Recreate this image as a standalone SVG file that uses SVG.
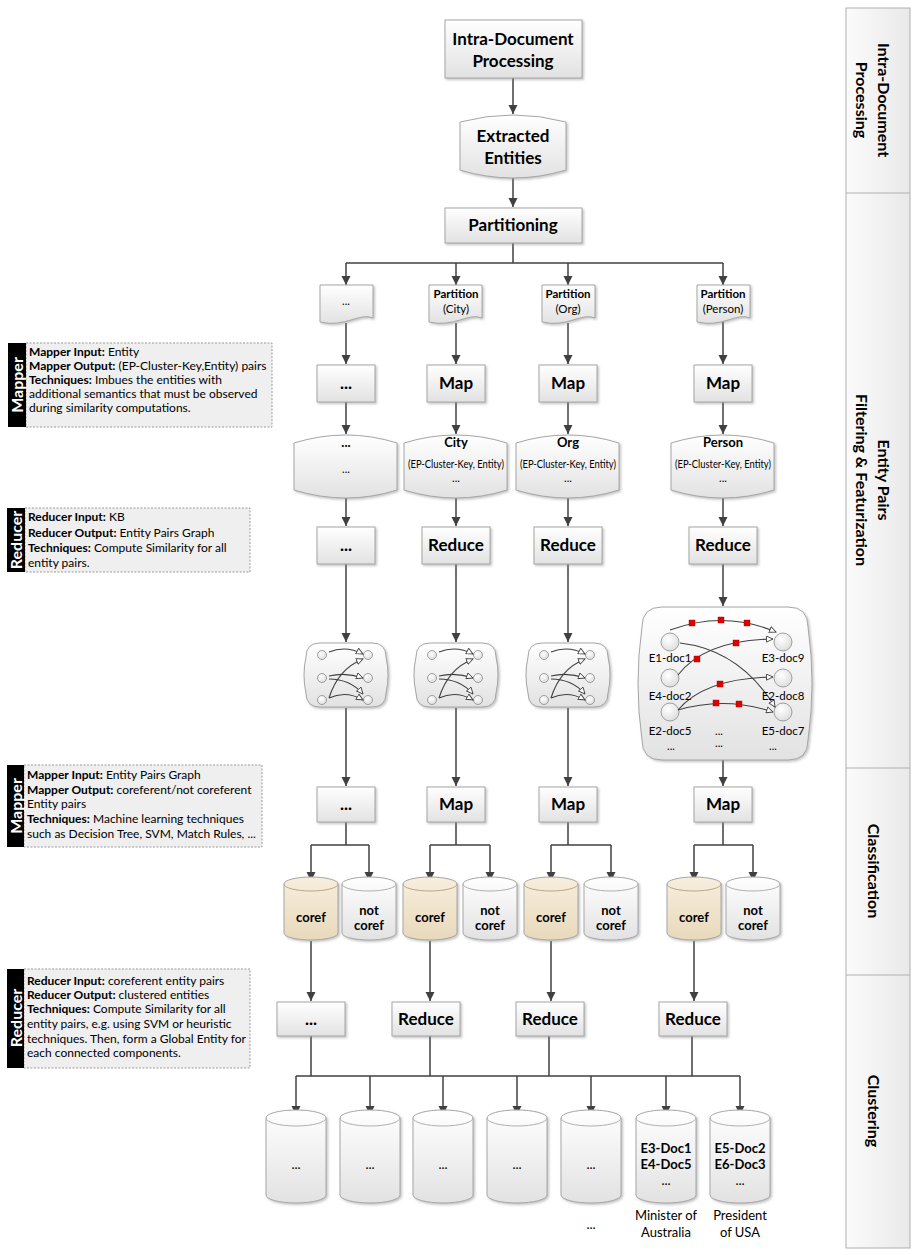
<svg xmlns="http://www.w3.org/2000/svg" width="914" height="1255" viewBox="0 0 914 1255">
<style>
.box{fill:url(#gBox);stroke:#a6a6a6;stroke-width:1;filter:url(#sh)}
.cor{fill:url(#gCoref);stroke:#a6a6a6;stroke-width:1;filter:url(#sh)}
.ln{fill:none;stroke:#404040;stroke-width:1.5}
.arr{fill:none;stroke:#404040;stroke-width:1.5;marker-end:url(#ah)}
.ge{fill:none;stroke:#404040;stroke-width:1.1;marker-end:url(#ho)}
.gc{fill:url(#gCirc);stroke:#8a8a8a;stroke-width:0.8}
.rs{fill:#e00000;stroke:#900;stroke-width:0.4}
.t{font-family:Lato,'Liberation Sans',sans-serif;fill:#000}
.big{font-size:17px;font-weight:bold;text-anchor:middle}
.mid{font-size:13px;text-anchor:middle}
.sm{font-size:11px;text-anchor:middle}
.pt{font-size:11.5px;text-anchor:middle}
.gl{font-size:11.5px;text-anchor:middle}
.note{font-size:12px}
.b{font-weight:bold}
.tab{font-family:Lato,'Liberation Sans',sans-serif;font-size:16px;font-weight:bold;fill:#fff;text-anchor:middle}
.nb{fill:#efefef;stroke:#9a9a9a;stroke-width:1;stroke-dasharray:2 1.5}
.lane{font-family:Lato,'Liberation Sans',sans-serif;font-size:16px;font-weight:bold;text-anchor:middle;fill:#000}
</style>
<defs>
<linearGradient id="gBox" x1="0" y1="0" x2="0" y2="1"><stop offset="0" stop-color="#ffffff"/><stop offset="1" stop-color="#e2e2e2"/></linearGradient>
<linearGradient id="gCoref" x1="0" y1="0" x2="0" y2="1"><stop offset="0" stop-color="#f7eedd"/><stop offset="1" stop-color="#e8d9bb"/></linearGradient>
<linearGradient id="gLane" x1="0" y1="0" x2="1" y2="0"><stop offset="0" stop-color="#fbfbfb"/><stop offset="1" stop-color="#e9e9e9"/></linearGradient>
<radialGradient id="gCirc" cx="0.4" cy="0.35" r="0.7"><stop offset="0" stop-color="#ffffff"/><stop offset="1" stop-color="#dcdcdc"/></radialGradient>
<filter id="sh" x="-10%" y="-10%" width="130%" height="130%"><feDropShadow dx="1.5" dy="1.5" stdDeviation="1" flood-color="#888" flood-opacity="0.5"/></filter>
<marker id="ah" markerUnits="userSpaceOnUse" markerWidth="10" markerHeight="10" refX="9" refY="5" orient="auto"><path d="M0,0.5 L9,5 L0,9.5 Z" fill="#404040"/></marker>
<marker id="ho" markerUnits="userSpaceOnUse" markerWidth="8" markerHeight="8" refX="7" refY="3.5" orient="auto"><path d="M0.5,0.5 L7,3.5 L0.5,6.5 Z" fill="#fff" stroke="#404040" stroke-width="0.9"/></marker>
<g id="smallGraph">
<path class="box" d="M14,0 H66 Q80,0 80,14 Q84,32 80,50 Q80,64 66,64 H14 Q0,64 0,50 Q-4,32 0,14 Q0,0 14,0 Z"/>
<circle class="gc" cx="16" cy="12" r="4.5"/><circle class="gc" cx="16" cy="35" r="4.5"/><circle class="gc" cx="16" cy="57" r="4.5"/>
<circle class="gc" cx="62" cy="12" r="4.5"/><circle class="gc" cx="62" cy="35" r="4.5"/><circle class="gc" cx="62" cy="57" r="4.5"/>
<path class="ge" d="M23,9 Q40,2 57,11"/>
<path class="ge" d="M23,55 Q32,26 57,16"/>
<path class="ge" d="M23,33 Q40,29 57,35"/>
<path class="ge" d="M23,36 Q44,36 57,51"/>
<path class="ge" d="M23,55 Q40,47 57,57"/>
</g>
</defs>

<!-- lanes -->
<g id="lanes">
<rect x="846" y="8" width="64" height="1240" fill="url(#gLane)" stroke="#b0b0b0"/>
<line x1="846" y1="193" x2="910" y2="193" stroke="#b0b0b0"/>
<line x1="846" y1="768" x2="910" y2="768" stroke="#b0b0b0"/>
<line x1="846" y1="975" x2="910" y2="975" stroke="#b0b0b0"/>
<text class="lane" transform="translate(884,100) rotate(90)" y="6">Intra-Document</text>
<text class="lane" transform="translate(862,100) rotate(90)" y="6">Processing</text>
<text class="lane" transform="translate(884,480) rotate(90)" y="6">Entity Pairs</text>
<text class="lane" transform="translate(862,480) rotate(90)" y="6">Filtering &amp; Featurization</text>
<text class="lane" transform="translate(874,871) rotate(90)" y="6">Classification</text>
<text class="lane" transform="translate(874,1111) rotate(90)" y="6">Clustering</text>
</g>

<!-- notes -->
<g id="note-mapper1">
<rect class="nb" x="26" y="343" width="246" height="84"/>
<rect x="8" y="343" width="18" height="84" fill="#000"/>
<text class="tab" transform="translate(17,385) rotate(-90)" y="6">Mapper</text>
<text class="t note" x="29" y="356"><tspan class="b">Mapper Input:</tspan> Entity</text>
<text class="t note" x="29" y="370"><tspan class="b">Mapper Output:</tspan> (EP-Cluster-Key,Entity) pairs</text>
<text class="t note" x="29" y="384"><tspan class="b">Techniques:</tspan> Imbues the entities with</text>
<text class="t note" x="29" y="398">additional semantics that must be observed</text>
<text class="t note" x="29" y="412">during similarity computations.</text>
</g>
<g id="note-reducer1">
<rect class="nb" x="25" y="508" width="225" height="64"/>
<rect x="7" y="508" width="18" height="64" fill="#000"/>
<text class="tab" transform="translate(16,540) rotate(-90)" y="6">Reducer</text>
<text class="t note" x="28" y="521"><tspan class="b">Reducer Input:</tspan> KB</text>
<text class="t note" x="28" y="537"><tspan class="b">Reducer Output:</tspan> Entity Pairs Graph</text>
<text class="t note" x="28" y="552"><tspan class="b">Techniques:</tspan> Compute Similarity for all</text>
<text class="t note" x="28" y="567">entity pairs.</text>
</g>
<g id="note-mapper2">
<rect class="nb" x="24" y="765" width="238" height="82"/>
<rect x="7" y="765" width="17" height="82" fill="#000"/>
<text class="tab" transform="translate(15.5,806) rotate(-90)" y="6">Mapper</text>
<text class="t note" x="27" y="779"><tspan class="b">Mapper Input:</tspan> Entity Pairs Graph</text>
<text class="t note" x="27" y="794"><tspan class="b">Mapper Output:</tspan> coreferent/not coreferent</text>
<text class="t note" x="27" y="808">Entity pairs</text>
<text class="t note" x="27" y="823"><tspan class="b">Techniques:</tspan> Machine learning techniques</text>
<text class="t note" x="27" y="838">such as Decision Tree, SVM, Match Rules, ...</text>
</g>
<g id="note-reducer2">
<rect class="nb" x="24" y="969" width="226" height="99"/>
<rect x="7" y="969" width="17" height="99" fill="#000"/>
<text class="tab" transform="translate(15.5,1018) rotate(-90)" y="6">Reducer</text>
<text class="t note" x="27" y="985"><tspan class="b">Reducer Input:</tspan> coreferent entity pairs</text>
<text class="t note" x="27" y="999"><tspan class="b">Reducer Output:</tspan> clustered entities</text>
<text class="t note" x="27" y="1013"><tspan class="b">Techniques:</tspan> Compute Similarity for all</text>
<text class="t note" x="27" y="1028">entity pairs, e.g. using SVM or heuristic</text>
<text class="t note" x="27" y="1043">techniques. Then, form a Global Entity for</text>
<text class="t note" x="27" y="1057">each connected components.</text>
</g>

<!-- connectors -->
<g id="connectors">
<path class="arr" d="M513,78 V114"/>
<path class="arr" d="M513,177 V207"/>
<path class="ln" d="M513,243 V263 M346,263 H723"/>
<path class="arr" d="M346,263 V285"/><path class="arr" d="M456,263 V285"/><path class="arr" d="M568,263 V285"/><path class="arr" d="M723,263 V285"/>
<path class="arr" d="M346,323 V364"/><path class="arr" d="M456,323 V364"/><path class="arr" d="M568,323 V364"/><path class="arr" d="M723,321 V364"/>
<path class="arr" d="M346,402 V434"/><path class="arr" d="M456,402 V434"/><path class="arr" d="M568,402 V434"/><path class="arr" d="M723,402 V434"/>
<path class="arr" d="M346,498 V526"/><path class="arr" d="M456,498 V526"/><path class="arr" d="M568,498 V526"/><path class="arr" d="M723,498 V526"/>
<path class="arr" d="M346,564 V642"/><path class="arr" d="M456,564 V642"/><path class="arr" d="M568,564 V642"/><path class="arr" d="M723,564 V606"/>
<path class="arr" d="M346,708 V786"/><path class="arr" d="M456,708 V786"/><path class="arr" d="M568,708 V786"/><path class="arr" d="M723,760 V786"/>
<path class="ln" d="M346,822 V845 M311,845 H369"/><path class="arr" d="M311,845 V881"/><path class="arr" d="M369,845 V881"/>
<path class="ln" d="M456,822 V845 M430,845 H490"/><path class="arr" d="M430,845 V881"/><path class="arr" d="M490,845 V881"/>
<path class="ln" d="M568,822 V845 M551,845 H611"/><path class="arr" d="M551,845 V881"/><path class="arr" d="M611,845 V881"/>
<path class="ln" d="M723,822 V845 M694,845 H753"/><path class="arr" d="M694,845 V881"/><path class="arr" d="M753,845 V881"/>
<path class="arr" d="M311,941 V1001"/><path class="arr" d="M430,941 V1001"/><path class="arr" d="M551,941 V1001"/><path class="arr" d="M694,941 V1001"/>
<path class="ln" d="M311,1036 V1076 M430,1036 V1076 M549,1036 V1076 M692,1036 V1076 M296,1076 H740"/>
<path class="arr" d="M296,1076 V1115"/><path class="arr" d="M370,1076 V1115"/><path class="arr" d="M443,1076 V1115"/><path class="arr" d="M517,1076 V1115"/><path class="arr" d="M591,1076 V1115"/><path class="arr" d="M666,1076 V1115"/><path class="arr" d="M740,1076 V1115"/>
</g>

<!-- top nodes -->
<g id="intra"><rect class="box" x="445" y="20" width="137" height="58"/>
<text class="t big" x="513" y="45">Intra-Document</text><text class="t big" x="513" y="67">Processing</text></g>
<g id="extracted"><path class="box" d="M460,122 Q513,108 566,122 V170 Q513,186 460,170 Z"/>
<text class="t big" x="513" y="142">Extracted</text><text class="t big" x="513" y="164">Entities</text></g>
<g id="partitioning"><rect class="box" x="445" y="208" width="137" height="35"/>
<text class="t big" x="513" y="231">Partitioning</text></g>

<!-- partitions -->
<g id="part-dots"><path class="box" d="M320,285 H373 V318 C360,312 345,328 320,322 Z"/><text class="t sm" x="346" y="305">...</text></g>
<g id="part-city"><path class="box" d="M429,285 H482 V318 C469,312 454,328 429,322 Z"/><text class="t pt b" x="456" y="298">Partition</text><text class="t pt" x="456" y="313">(City)</text></g>
<g id="part-org"><path class="box" d="M542,285 H595 V318 C582,312 567,328 542,322 Z"/><text class="t pt b" x="568" y="298">Partition</text><text class="t pt" x="568" y="313">(Org)</text></g>
<g id="part-person"><path class="box" d="M697,285 H750 V318 C737,312 722,328 697,322 Z"/><text class="t pt b" x="723" y="298">Partition</text><text class="t pt" x="723" y="313">(Person)</text></g>

<!-- map row 1 -->
<g id="map1-dots"><rect class="box" x="317" y="365" width="58" height="37"/><text class="t big" x="346" y="389">...</text></g>
<g id="map1-city"><rect class="box" x="427" y="365" width="58" height="37"/><text class="t big" x="456" y="389">Map</text></g>
<g id="map1-org"><rect class="box" x="539" y="365" width="58" height="37"/><text class="t big" x="568" y="389">Map</text></g>
<g id="map1-person"><rect class="box" x="694" y="365" width="58" height="37"/><text class="t big" x="723" y="389">Map</text></g>

<!-- key stores -->
<g id="kv-dots"><path class="box" d="M294,443 Q346,427 397,443 V490 Q346,506 294,490 Z"/><text class="t mid b" x="346" y="447">...</text><text class="t sm" x="346" y="473">...</text></g>
<g id="kv-city"><path class="box" d="M404,443 Q456,427 507,443 V490 Q456,506 404,490 Z"/><text class="t mid b" x="456" y="447">City</text><text class="t sm" x="456" y="468" textLength="96" lengthAdjust="spacingAndGlyphs">(EP-Cluster-Key, Entity)</text><text class="t sm" x="456" y="482">...</text></g>
<g id="kv-org"><path class="box" d="M516,443 Q568,427 619,443 V490 Q568,506 516,490 Z"/><text class="t mid b" x="568" y="447">Org</text><text class="t sm" x="568" y="468" textLength="96" lengthAdjust="spacingAndGlyphs">(EP-Cluster-Key, Entity)</text><text class="t sm" x="568" y="482">...</text></g>
<g id="kv-person"><path class="box" d="M671,443 Q723,427 774,443 V490 Q723,506 671,490 Z"/><text class="t mid b" x="723" y="447">Person</text><text class="t sm" x="723" y="468" textLength="96" lengthAdjust="spacingAndGlyphs">(EP-Cluster-Key, Entity)</text><text class="t sm" x="723" y="482">...</text></g>

<!-- reduce row 1 -->
<g id="red1-dots"><rect class="box" x="317" y="527" width="58" height="37"/><text class="t big" x="346" y="551">...</text></g>
<g id="red1-city"><rect class="box" x="422" y="527" width="68" height="37"/><text class="t big" x="456" y="551">Reduce</text></g>
<g id="red1-org"><rect class="box" x="534" y="527" width="68" height="37"/><text class="t big" x="568" y="551">Reduce</text></g>
<g id="red1-person"><rect class="box" x="689" y="527" width="68" height="37"/><text class="t big" x="723" y="551">Reduce</text></g>

<!-- graphs -->
<g id="graph-dots"><use href="#smallGraph" x="306" y="643"/></g>
<g id="graph-city"><use href="#smallGraph" x="416" y="643"/></g>
<g id="graph-org"><use href="#smallGraph" x="528" y="643"/></g>
<g id="graph-person">
<path class="box" d="M662,607 H788 Q808,607 808,627 Q816,683 808,740 Q808,760 788,760 H662 Q642,760 642,740 Q634,683 642,627 Q642,607 662,607 Z"/>
<circle class="gc" cx="670" cy="642" r="9"/><circle class="gc" cx="670" cy="678" r="9"/><circle class="gc" cx="670" cy="712" r="9"/>
<circle class="gc" cx="783" cy="642" r="9"/><circle class="gc" cx="783" cy="678" r="9"/><circle class="gc" cx="783" cy="712" r="9"/>
<path class="ge" d="M670,630 Q724,610 776,632"/>
<path class="ge" d="M680,643 Q740,650 775,707"/>
<path class="ge" d="M678,675 Q705,640 773,639"/>
<path class="ge" d="M678,710 Q705,678 773,677"/>
<path class="ge" d="M678,710 Q725,696 773,712"/>
<rect class="rs" x="689" y="620" width="6" height="6"/><rect class="rs" x="718" y="617" width="6" height="6"/><rect class="rs" x="744" y="620" width="6" height="6"/>
<rect class="rs" x="694" y="656" width="6" height="6"/><rect class="rs" x="733" y="640" width="6" height="6"/>
<rect class="rs" x="717" y="681" width="6" height="6"/>
<rect class="rs" x="713" y="700" width="6" height="6"/><rect class="rs" x="736" y="701" width="6" height="6"/>
<text class="t gl" x="670" y="662">E1-doc1</text><text class="t gl" x="670" y="700">E4-doc2</text><text class="t gl" x="670" y="735">E2-doc5</text><text class="t sm" x="671" y="750">...</text>
<text class="t gl" x="783" y="662">E3-doc9</text><text class="t gl" x="783" y="700">E2-doc8</text><text class="t gl" x="783" y="735">E5-doc7</text><text class="t sm" x="773" y="750">...</text>
<text class="t sm" x="719" y="735">...</text><text class="t sm" x="719" y="747">...</text>
</g>

<!-- map row 2 -->
<g id="map2-dots"><rect class="box" x="317" y="787" width="58" height="35"/><text class="t big" x="346" y="810">...</text></g>
<g id="map2-city"><rect class="box" x="427" y="787" width="58" height="35"/><text class="t big" x="456" y="810">Map</text></g>
<g id="map2-org"><rect class="box" x="539" y="787" width="58" height="35"/><text class="t big" x="568" y="810">Map</text></g>
<g id="map2-person"><rect class="box" x="694" y="787" width="58" height="35"/><text class="t big" x="723" y="810">Map</text></g>

<!-- coref cylinders -->
<g id="coref1"><path class="cor" d="M284,884 A27,7 0 0 1 338,884 V933 A27,7 0 0 1 284,933 Z"/><path d="M284,884 A27,7 0 0 0 338,884" fill="none" stroke="#b5a88c"/><text class="t mid b" x="311" y="922">coref</text></g>
<g id="notcoref1"><path class="box" d="M342,884 A27,7 0 0 1 396,884 V933 A27,7 0 0 1 342,933 Z"/><path d="M342,884 A27,7 0 0 0 396,884" fill="none" stroke="#b0b0b0"/><text class="t mid b" x="369" y="915">not</text><text class="t mid b" x="369" y="930">coref</text></g>
<g id="coref2"><path class="cor" d="M403,884 A27,7 0 0 1 457,884 V933 A27,7 0 0 1 403,933 Z"/><path d="M403,884 A27,7 0 0 0 457,884" fill="none" stroke="#b5a88c"/><text class="t mid b" x="430" y="922">coref</text></g>
<g id="notcoref2"><path class="box" d="M463,884 A27,7 0 0 1 517,884 V933 A27,7 0 0 1 463,933 Z"/><path d="M463,884 A27,7 0 0 0 517,884" fill="none" stroke="#b0b0b0"/><text class="t mid b" x="490" y="915">not</text><text class="t mid b" x="490" y="930">coref</text></g>
<g id="coref3"><path class="cor" d="M524,884 A27,7 0 0 1 578,884 V933 A27,7 0 0 1 524,933 Z"/><path d="M524,884 A27,7 0 0 0 578,884" fill="none" stroke="#b5a88c"/><text class="t mid b" x="551" y="922">coref</text></g>
<g id="notcoref3"><path class="box" d="M584,884 A27,7 0 0 1 638,884 V933 A27,7 0 0 1 584,933 Z"/><path d="M584,884 A27,7 0 0 0 638,884" fill="none" stroke="#b0b0b0"/><text class="t mid b" x="611" y="915">not</text><text class="t mid b" x="611" y="930">coref</text></g>
<g id="coref4"><path class="cor" d="M667,884 A27,7 0 0 1 721,884 V933 A27,7 0 0 1 667,933 Z"/><path d="M667,884 A27,7 0 0 0 721,884" fill="none" stroke="#b5a88c"/><text class="t mid b" x="694" y="922">coref</text></g>
<g id="notcoref4"><path class="box" d="M726,884 A27,7 0 0 1 780,884 V933 A27,7 0 0 1 726,933 Z"/><path d="M726,884 A27,7 0 0 0 780,884" fill="none" stroke="#b0b0b0"/><text class="t mid b" x="753" y="915">not</text><text class="t mid b" x="753" y="930">coref</text></g>

<!-- reduce row 2 -->
<g id="red2-dots"><rect class="box" x="277" y="1002" width="68" height="34"/><text class="t big" x="311" y="1025">...</text></g>
<g id="red2-city"><rect class="box" x="392" y="1002" width="68" height="34"/><text class="t big" x="426" y="1025">Reduce</text></g>
<g id="red2-org"><rect class="box" x="516" y="1002" width="68" height="34"/><text class="t big" x="550" y="1025">Reduce</text></g>
<g id="red2-person"><rect class="box" x="659" y="1002" width="68" height="34"/><text class="t big" x="693" y="1025">Reduce</text></g>

<!-- clusters -->
<g id="cl1"><path class="box" d="M266,1118 A30,8 0 0 1 326,1118 V1195 A30,8 0 0 1 266,1195 Z"/><path d="M266,1118 A30,8 0 0 0 326,1118" fill="none" stroke="#b0b0b0"/><text class="t mid" x="296" y="1169">...</text></g>
<g id="cl2"><path class="box" d="M340,1118 A30,8 0 0 1 400,1118 V1195 A30,8 0 0 1 340,1195 Z"/><path d="M340,1118 A30,8 0 0 0 400,1118" fill="none" stroke="#b0b0b0"/><text class="t mid" x="370" y="1169">...</text></g>
<g id="cl3"><path class="box" d="M413,1118 A30,8 0 0 1 473,1118 V1195 A30,8 0 0 1 413,1195 Z"/><path d="M413,1118 A30,8 0 0 0 473,1118" fill="none" stroke="#b0b0b0"/><text class="t mid" x="443" y="1169">...</text></g>
<g id="cl4"><path class="box" d="M487,1118 A30,8 0 0 1 547,1118 V1195 A30,8 0 0 1 487,1195 Z"/><path d="M487,1118 A30,8 0 0 0 547,1118" fill="none" stroke="#b0b0b0"/><text class="t mid" x="517" y="1169">...</text></g>
<g id="cl5"><path class="box" d="M561,1118 A30,8 0 0 1 621,1118 V1195 A30,8 0 0 1 561,1195 Z"/><path d="M561,1118 A30,8 0 0 0 621,1118" fill="none" stroke="#b0b0b0"/><text class="t mid" x="591" y="1169">...</text><text class="t mid" x="591" y="1229">...</text></g>
<g id="cl6"><path class="box" d="M636,1118 A30,8 0 0 1 696,1118 V1195 A30,8 0 0 1 636,1195 Z"/><path d="M636,1118 A30,8 0 0 0 696,1118" fill="none" stroke="#b0b0b0"/><text class="t mid b" x="666" y="1153">E3-Doc1</text><text class="t mid b" x="666" y="1169">E4-Doc5</text><text class="t mid" x="666" y="1185">...</text><text class="t mid" x="666" y="1220">Minister of</text><text class="t mid" x="666" y="1237">Australia</text></g>
<g id="cl7"><path class="box" d="M710,1118 A30,8 0 0 1 770,1118 V1195 A30,8 0 0 1 710,1195 Z"/><path d="M710,1118 A30,8 0 0 0 770,1118" fill="none" stroke="#b0b0b0"/><text class="t mid b" x="740" y="1153">E5-Doc2</text><text class="t mid b" x="740" y="1169">E6-Doc3</text><text class="t mid" x="740" y="1185">...</text><text class="t mid" x="740" y="1220">President</text><text class="t mid" x="740" y="1237">of USA</text></g>
</svg>
